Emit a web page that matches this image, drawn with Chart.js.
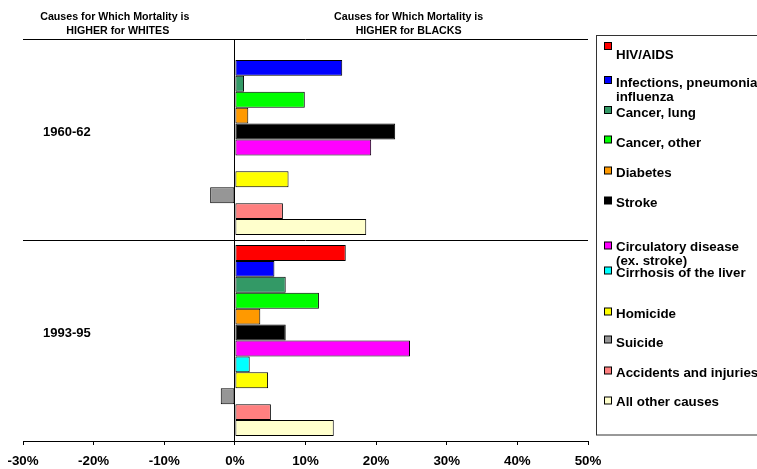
<!DOCTYPE html>
<html>
<head>
<meta charset="utf-8">
<script src="https://cdn.jsdelivr.net/npm/chart.js@4.4.0/dist/chart.umd.min.js"></script>
<style>
  html, body { margin: 0; padding: 0; background: #fff; }
</style>
</head>
<body>
<canvas id="chart" width="757" height="469"></canvas>
<script>
// --- DATA ---
const periods = ['1960-62', '1993-95'];
const causes = [
    ['HIV/AIDS'],
    ['Infections, pneumonia', 'influenza'],
    ['Cancer, lung'],
    ['Cancer, other'],
    ['Diabetes'],
    ['Stroke'],
    ['Circulatory disease', '(ex. stroke)'],
    ['Cirrhosis of the liver'],
    ['Homicide'],
    ['Suicide'],
    ['Accidents and injuries'],
    ['All other causes']
];
const causeColors = ['#ff0000', '#0000ff', '#339966', '#00ff00', '#ff9900', '#000000',
                     '#ff00ff', '#00ffff', '#ffff00', '#969696', '#ff8080', '#ffffcc'];
// excess mortality share (%), one value per cause
const values1960 = [null, 15.2, 1.3, 9.9, 1.9, 22.7, 19.3, null, 7.6, -3.5, 6.8, 18.6];
const values1993 = [15.7, 5.6, 7.2, 11.9, 3.6, 7.2, 24.8, 2.1, 4.7, -2.0, 5.1, 14.0];
const xMin = -30, xMax = 50, xStep = 10;
const headerLeft = ['Causes for Which Mortality is', 'HIGHER for WHITES'];
const headerRight = ['Causes for Which Mortality is', 'HIGHER for BLACKS'];

const FONT = 'Liberation Sans, Arial, Helvetica, sans-serif';

// legend row layout (box top / text baseline) as in the original
const legendBoxY = [42.5, 76.5, 106.5, 136, 167, 197, 242, 267, 308, 336, 367, 397];
const legendTextY = [58.5, 86.5, 117, 146.5, 176.5, 206.5, 250.5, 276.5, 317.5, 346.5, 376.5, 406];

// --- PLUGINS ---
const headerAndLegend = {
    id: 'headerAndLegend',
    afterDraw(chart) {
        const ctx = chart.ctx;
        const xs = chart.scales.x;
        ctx.save();
        ctx.fillStyle = '#000';
        ctx.textBaseline = 'alphabetic';
        ctx.textAlign = 'center';
        ctx.font = 'bold 10.67px ' + FONT;
        const leftCenter = xs.getPixelForValue(-17);
        const rightCenter = xs.getPixelForValue(24.6);
        ctx.fillText(headerLeft[0], leftCenter, 19.5);
        ctx.fillText(headerLeft[1], leftCenter + 3, 33.5);
        ctx.fillText(headerRight[0], rightCenter, 19.5);
        ctx.fillText(headerRight[1], rightCenter, 33.5);

        // legend frame
        ctx.fillStyle = '#fff';
        ctx.fillRect(597, 36, 199, 398.5);
        ctx.strokeStyle = '#333';
        ctx.lineWidth = 1;
        ctx.strokeRect(596.5, 35.5, 200, 399.5);

        ctx.textAlign = 'left';
        ctx.font = 'bold 13.33px ' + FONT;
        chart.data.datasets.forEach((ds, i) => {
            const by = legendBoxY[i];
            ctx.fillStyle = ds.backgroundColor;
            ctx.fillRect(604.5, by, 7, 7);
            ctx.strokeStyle = '#000';
            ctx.strokeRect(604.5, by, 7, 7);
            ctx.fillStyle = '#000';
            causes[i].forEach((line, j) => {
                ctx.fillText(line, 616, legendTextY[i] + j * 14.5);
            });
        });
        ctx.restore();
    }
};

// --- CHART ---
const datasets = causes.map((c, i) => ({
    label: c.join(' '),
    data: [values1960[i], values1993[i]],
    backgroundColor: causeColors[i],
    borderColor: '#000',
    borderWidth: 1,
    borderSkipped: false,
    categoryPercentage: 0.95,
    barPercentage: 1.0
}));

new Chart(document.getElementById('chart').getContext('2d'), {
    type: 'bar',
    data: { labels: periods, datasets },
    options: {
        indexAxis: 'y',
        responsive: false,
        animation: false,
        devicePixelRatio: 1,
        layout: { padding: { left: 23, right: 169, top: 39, bottom: 0 } },
        plugins: {
            legend: { display: false },
            tooltip: { enabled: false }
        },
        scales: {
            x: {
                min: xMin,
                max: xMax,
                afterFit: scale => {
                    scale.height = 28;
                    scale.paddingLeft = 0;
                    scale.paddingRight = 0;
                },
                ticks: {
                    stepSize: xStep,
                    color: '#000',
                    font: { family: FONT, size: 13.33, weight: 'bold' },
                    padding: 8,
                    maxRotation: 0,
                    callback: v => v + '%'
                },
                grid: {
                    color: c => (c.tick && c.tick.value === 0) ? '#000' : 'rgba(0,0,0,0)',
                    tickColor: '#000',
                    tickLength: 4,
                    lineWidth: 1
                },
                border: { display: true, color: '#000', width: 1 }
            },
            y: {
                ticks: {
                    mirror: true,
                    padding: 20,
                    labelOffset: -7,
                    color: '#000',
                    font: { family: FONT, size: 13, weight: 'bold' }
                },
                afterFit: scale => { scale.width = 0; },
                grid: { color: '#000', drawTicks: false, offset: true },
                border: { display: false }
            }
        }
    },
    plugins: [headerAndLegend]
});
</script>
</body>
</html>
